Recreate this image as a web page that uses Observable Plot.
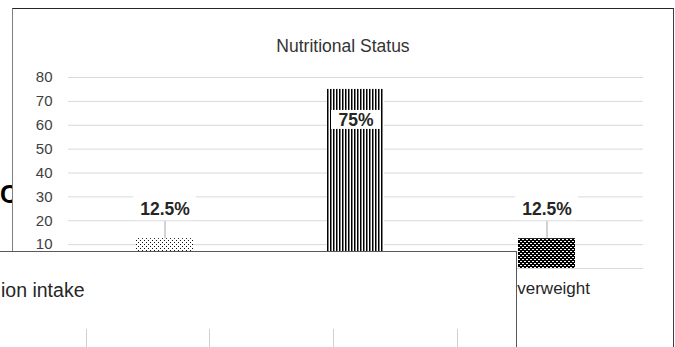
<!DOCTYPE html>
<html>
<head>
<meta charset="utf-8">
<script src="https://cdn.jsdelivr.net/npm/d3@7"></script>
<script src="https://cdn.jsdelivr.net/npm/@observablehq/plot@0.6"></script>
<style>
  html, body { margin: 0; padding: 0; background: #fff; }
  #stage {
    position: relative; width: 675px; height: 347px; overflow: hidden;
    font-family: "Liberation Sans", Arial, sans-serif;
  }
  /* heading of the document behind the chart */
  #behind {
    position: absolute; left: 0; top: 182px; z-index: 0;
    font: bold 25px/1 "Liberation Sans", Arial, sans-serif; color: #000;
  }
  /* chart area frame */
  #frame {
    position: absolute; left: 12px; top: 8px; width: 662px; height: 400px;
    box-sizing: border-box; background: #fff; z-index: 1;
    border-top: 1px solid #262626; border-left: 1px solid #808080; border-right: 1px solid #404040;
  }
  #title {
    position: absolute; left: 0; right: 0; top: 27px; text-align: center;
    font-size: 17.5px; line-height: 20px; color: #333;
  }
  #chart { position: absolute; left: 0; top: 0; z-index: 2; }
  /* window lying over the lower left corner */
  #overlay {
    position: absolute; left: -1px; top: 251px; width: 518px; height: 120px;
    box-sizing: border-box; background: #fff; z-index: 3;
    border-top: 1px solid #595959; border-right: 1px solid #595959; border-left: 1px solid #595959;
  }
  #overlay .caption {
    position: absolute; left: 1px; top: 29px;
    font-size: 19.5px; line-height: 1; color: #262626; white-space: nowrap;
  }
  #overlay .col {
    position: absolute; top: 77px; width: 0; height: 40px; border-left: 1px solid #d0d0d0;
  }
</style>
</head>
<body>
<div id="stage">
  <div id="behind">C</div>
  <div id="frame"><div id="title"></div></div>
  <div id="chart"></div>
  <div id="overlay">
    <div class="caption">ion intake</div>
    <div class="col" style="left:86px"></div>
    <div class="col" style="left:209px"></div>
    <div class="col" style="left:333px"></div>
    <div class="col" style="left:457px"></div>
  </div>
</div>
<script>
// Nutritional status of the sample, percent per category
const chartTitle = "Nutritional Status";
const categories = ["Underweight", "Normal", "Overweight"];
const percentages = [12.5, 75, 12.5];
const yTicks = [0, 10, 20, 30, 40, 50, 60, 70, 80];
const patternIds = ["pat-dots-light", "pat-vstripes", "pat-dots-dark"];

const rows = categories.map((category, i) => ({
  category,
  value: percentages[i],
  label: `${percentages[i]}%`
}));
// the tall bar carries its label inside, the short ones above with a leader line
const insideLabels = rows.filter(d => d.value >= 50);
const outsideLabels = rows.filter(d => d.value < 50);

document.getElementById("title").textContent = chartTitle;

const labelFont = {fontSize: 17.5, fontWeight: "bold", fill: "#262626"};

const plot = Plot.plot({
  width: 675,
  height: 347,
  marginLeft: 68,
  marginRight: 32,
  marginTop: 77,
  marginBottom: 79,
  style: {fontFamily: "'Liberation Sans', Arial, sans-serif", background: "transparent", color: "#404040"},
  x: {domain: categories, paddingInner: 0.7, paddingOuter: 0.35},
  y: {domain: [0, 80]},
  color: {domain: categories, range: patternIds.map(id => `url(#${id})`)},
  marks: [
    Plot.ruleY(yTicks, {stroke: "#d9d9d9", strokeWidth: 1}),
    Plot.barY(rows, {x: "category", y: "value", fill: "category"}),
    // leader lines from the outside labels down to their bars
    Plot.ruleX(outsideLabels, {x: "category", y1: "value", y2: "value", insetTop: -17, stroke: "#a6a6a6"}),
    Plot.barY(outsideLabels, {x: "category", y1: "value", y2: "value", insetTop: -42, insetBottom: 18, insetLeft: -3, insetRight: -3, fill: "white"}),
    Plot.text(outsideLabels, {x: "category", y: "value", text: "label", dy: -29.5, ...labelFont}),
    Plot.barY(insideLabels, {x: "category", y1: "value", y2: "value", insetTop: 21, insetBottom: -40, insetLeft: 4, insetRight: 3, fill: "white"}),
    Plot.text(insideLabels, {x: "category", y: "value", text: "label", dy: 31, ...labelFont}),
    Plot.axisY(yTicks, {tickSize: 0, tickPadding: 16, fontSize: 15, label: null, fill: "#404040"}),
    Plot.axisX({tickSize: 0, tickPadding: 13, fontSize: 17, label: null, fill: "#262626"})
  ]
});

// fill patterns used by the bars
const defs = d3.select(plot).insert("defs", ":first-child");

const light = defs.append("pattern").attr("id", "pat-dots-light")
  .attr("patternUnits", "userSpaceOnUse").attr("width", 4).attr("height", 4);
light.append("rect").attr("width", 4).attr("height", 4).attr("fill", "#fff");
light.append("rect").attr("x", 0).attr("y", 0).attr("width", 1).attr("height", 1).attr("fill", "#111");
light.append("rect").attr("x", 2).attr("y", 2).attr("width", 1).attr("height", 1).attr("fill", "#111");

const stripes = defs.append("pattern").attr("id", "pat-vstripes")
  .attr("patternUnits", "userSpaceOnUse").attr("width", 3).attr("height", 3);
stripes.append("rect").attr("width", 3).attr("height", 3).attr("fill", "#fff");
stripes.append("rect").attr("x", 0).attr("width", 1.5).attr("height", 3).attr("fill", "#000");

const dark = defs.append("pattern").attr("id", "pat-dots-dark")
  .attr("patternUnits", "userSpaceOnUse").attr("width", 4).attr("height", 4);
dark.append("rect").attr("width", 4).attr("height", 4).attr("fill", "#000");
dark.append("rect").attr("x", 0).attr("y", 1).attr("width", 2).attr("height", 1).attr("fill", "#fff");
dark.append("rect").attr("x", 2).attr("y", 3).attr("width", 2).attr("height", 1).attr("fill", "#fff");

document.getElementById("chart").appendChild(plot);
</script>
</body>
</html>
